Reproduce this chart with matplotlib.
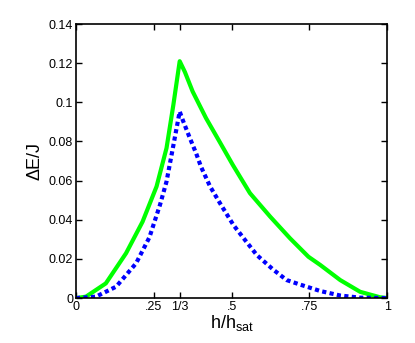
import numpy as np
import matplotlib
matplotlib.use('Agg')
import matplotlib.pyplot as plt

plt.rcParams['font.family'] = ['Liberation Sans', 'DejaVu Sans']

# green (solid) curve
x_g = [0, 0.032, 0.096, 0.161, 0.214, 0.259, 0.291, 0.313, 1/3,
       0.35, 0.375, 0.418, 0.461, 0.504, 0.559, 0.624, 0.688, 0.747,
       0.785, 0.849, 0.913, 0.977, 1]
y_g = [0, 0.0007, 0.0075, 0.0229, 0.039, 0.057, 0.0766, 0.0987, 0.121,
       0.1155, 0.1055, 0.0919, 0.080, 0.068, 0.0536, 0.0416, 0.0305, 0.0211,
       0.0169, 0.0092, 0.0032, 0.0004, 0]

# blue (dotted) curve
x_b = [0, 0.064, 0.129, 0.193, 0.236, 0.27, 0.291, 0.313, 1/3, 0.343,
       0.364, 0.386, 0.402, 0.431, 0.463, 0.506, 0.543, 0.581, 0.634,
       0.677, 0.720, 0.785, 0.849, 0.913, 1]
y_b = [0, 0.0007, 0.0058, 0.0177, 0.031, 0.0476, 0.0595, 0.078, 0.0953, 0.091,
       0.0825, 0.074, 0.067, 0.057, 0.0484, 0.0373, 0.0297, 0.022, 0.0145,
       0.0092, 0.0069, 0.0036, 0.0013, 0.0002, 0]

xticks = [0, 0.25, 1/3, 0.5, 0.75, 1]
xticklabels = ['0', '.25', '1/3', '.5', '.75', '1']
yticks = [0, 0.02, 0.04, 0.06, 0.08, 0.1, 0.12, 0.14]
yticklabels = ['0', '0.02', '0.04', '0.06', '0.08', '0.1', '0.12', '0.14']

fig = plt.figure(figsize=(4.15, 3.43), dpi=100)
ax = fig.add_axes([0.183, 0.131, 0.75, 0.799])

ax.plot(x_g, y_g, color='#00ff00', lw=3, solid_joinstyle='round')
ax.plot(x_b, y_b, color='#0000ff', lw=3, linestyle=(0, (1, 0.8)))

ax.set_xlim(0, 1)
ax.set_ylim(0, 0.14)
ax.set_xticks(xticks)
ax.set_xticklabels(xticklabels)
ax.set_yticks(yticks)
ax.set_yticklabels(yticklabels)
ax.tick_params(direction='in', top=True, right=True, labelsize=9, length=4, width=1, pad=2)
for s in ax.spines.values():
    s.set_linewidth(1.2)

ax.set_xlabel('h/h$_{\\mathregular{sat}}$', fontsize=13, labelpad=0)
ax.set_ylabel('ΔE/J', fontsize=13, labelpad=4)

fig.savefig('out.png', dpi=100)
